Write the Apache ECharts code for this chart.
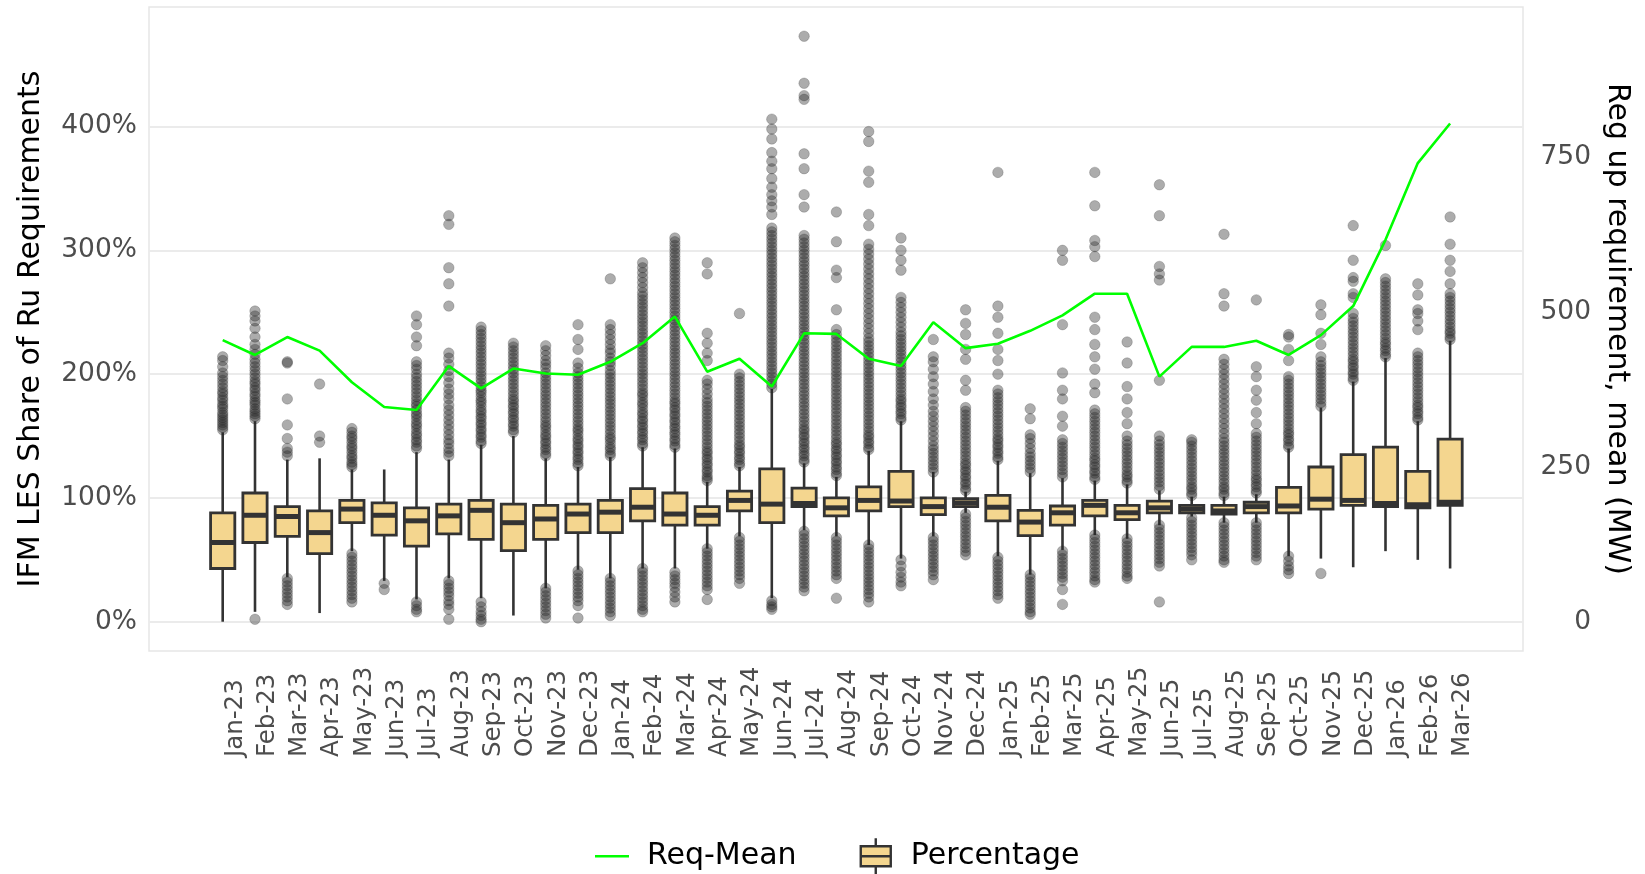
<!DOCTYPE html>
<html><head><meta charset="utf-8">
<script src="https://cdn.jsdelivr.net/npm/echarts@6/dist/echarts.min.js"></script>
<style>html,body{margin:0;padding:0;background:#fff}#chart{width:1645px;height:874px}</style>
</head><body><div id="chart"></div>
<script>
// ---- data ----
const months = ['Jan-23','Feb-23','Mar-23','Apr-23','May-23','Jun-23','Jul-23','Aug-23','Sep-23','Oct-23','Nov-23','Dec-23',
  'Jan-24','Feb-24','Mar-24','Apr-24','May-24','Jun-24','Jul-24','Aug-24','Sep-24','Oct-24','Nov-24','Dec-24',
  'Jan-25','Feb-25','Mar-25','Apr-25','May-25','Jun-25','Jul-25','Aug-25','Sep-25','Oct-25','Nov-25','Dec-25',
  'Jan-26','Feb-26','Mar-26'];
const lowerWhisker = [0,8,36,7,57,33,18,35,19,5,27,42,35,43,43,59,69,19,74,69,62,51,69,88,53,38,58,70,67,78,85,80,80,53,51,44,57,50,43];
const q1 = [43,64,69,55,80,70,61,71,66.5,57.5,66.5,72,72,81.5,78,78,89.5,80,93,85.5,89.5,93,86.5,93,81.5,69.5,78,85.5,82.5,88,88,87,88,88,91,94,93,92,94];
const median = [64,86,85,72,91,86,81.5,85.5,90,80,83,87,88.5,92.5,87,86,98,95,95.5,92,98,97.5,93,96,92.5,80.5,88,94,88,92,91,89.5,93,93.5,99,98,95.5,94.5,96.5];
const q3 = [88,104,93,89.5,98,96,92,95,98,95,94,95,98,107.5,104,93,105.5,123.5,108,100,109,121.5,100,99.5,102,90,93.5,98,94,97.5,94,94,96.5,108.5,125,135,141,121.5,147.5];
const upperWhisker = [153,162,131,132,123,123,137,131,143,150,132,125,133,141,140,113,125,188,128,117,138,162,121,105,130,120,116,114,111,106,101,101,103,140,173,194,213,162,227];
const reqMean = [455,431,460,438,387,347,342,413,377,409,401,399,420,450,493,404,425,380,466,465,425,413,484,442,449,470,495,530,530,396,444,444,454,431,463,510,617,741,805];
const outliers = [
 [155,157,159,161,163,165,167,169,172,174,176,179,181,184,186,189,192,195,198,201,206,211,214],
 [2,164,166,168,170,172,175,177,179,182,184,187,189,192,194,197,200,203,206,209,212,216,220,224,230,237,243,247,251],
 [14,17,20,23,26,29,32,35,134,137,140,148,159,180,209,210],
 [145,150,192],
 [16,19,22,25,28,31,34,37,40,43,46,49,52,55,125,127,129,132,134,137,140,142,145,148,150,153,156],
 [26,31],
 [8,10,13,16,140,142,145,147,150,152,155,158,160,163,166,168,171,174,176,179,182,185,188,191,194,197,200,204,207,210,223,230,240,247],
 [2,10,14,17,21,24,27,30,33,134,137,140,144,147,151,155,159,163,167,171,175,180,184,188,193,198,203,208,213,217,255,273,286,321,328],
 [0,2,5,8,12,16,144,146,149,151,154,156,159,161,164,166,169,171,174,177,179,182,185,187,190,193,196,199,202,205,208,211,214,217,220,223,226,229,232,235,238],
 [153,155,158,160,163,165,168,170,173,175,178,180,183,186,189,192,195,198,201,204,207,210,213,216,219,222,225],
 [3,6,9,12,15,18,21,24,27,134,136,139,141,144,146,149,151,154,157,159,162,165,168,171,174,177,180,183,186,189,192,195,198,201,205,208,211,215,219,223],
 [3,13,17,20,23,26,29,32,35,38,41,126,128,131,133,136,138,141,143,146,148,151,154,156,159,162,165,168,171,174,177,180,183,186,189,192,195,198,201,205,209,220,228,240],
 [5,8,11,14,17,20,23,26,29,32,35,134,136,139,141,144,147,149,152,155,158,161,164,167,170,173,176,179,182,185,188,191,194,197,200,203,207,210,213,217,220,224,228,232,236,240,277],
 [8,10,13,16,19,22,25,28,31,34,37,40,43,142,144,147,149,152,154,157,159,162,164,167,169,172,175,177,180,183,185,188,191,194,197,200,203,206,209,212,215,218,221,224,227,230,233,236,239,242,245,248,251,254,257,260,263,266,270,274,278,282,286,290],
 [16,20,24,28,31,34,37,40,141,143,146,148,151,153,156,158,161,163,166,168,171,173,176,178,181,184,187,190,193,196,199,202,205,208,211,214,217,220,223,226,229,232,235,238,241,244,247,250,253,256,259,262,265,268,271,274,277,280,283,286,289,292,295,298,301,304,307,310],
 [18,26,29,32,35,38,41,44,47,50,53,56,59,114,116,118,121,123,126,128,131,133,136,138,141,144,147,150,153,156,159,162,165,168,171,174,177,180,184,188,192,195,211,217,225,233,281,290],
 [31,35,38,41,44,47,50,53,56,59,62,65,68,126,128,131,133,136,138,141,143,146,149,152,155,158,161,164,167,170,173,176,179,182,185,188,191,194,197,200,249],
 [10,12,14,17,189,192,195,198,201,204,207,210,213,216,219,222,225,228,231,234,237,240,243,246,249,252,255,258,261,264,267,270,273,276,279,282,285,288,291,294,297,300,303,306,309,312,315,318,329,335,340,345,351,358,366,372,379,390,398,406],
 [25,28,31,34,37,40,43,46,49,52,55,58,61,64,67,70,73,129,131,134,136,139,141,144,146,149,151,154,156,159,162,165,168,171,174,177,180,183,186,189,192,195,198,201,204,207,210,213,216,219,222,225,228,231,234,237,240,243,246,249,252,255,258,261,264,267,270,273,276,279,282,285,288,291,294,297,300,303,306,309,312,335,345,366,378,422,425,435,473],
 [19,35,38,41,44,47,50,53,56,59,62,65,68,118,120,123,125,128,130,133,135,138,140,143,145,148,151,154,157,160,163,166,169,172,175,178,181,184,187,190,193,196,199,202,205,208,211,214,217,220,223,226,229,232,236,252,278,284,307,331],
 [16,20,23,26,29,32,35,38,41,44,47,50,53,56,59,62,139,141,144,146,149,151,154,157,160,163,166,169,172,175,178,181,184,187,190,193,196,199,202,205,208,211,214,217,220,223,226,229,233,237,241,245,249,253,257,261,265,269,273,277,281,285,289,293,297,301,305,320,329,355,364,388,396],
 [29,32,36,40,45,50,163,165,168,170,173,175,178,180,183,186,189,192,195,198,201,204,207,210,213,216,219,222,225,228,231,234,238,242,246,250,254,258,262,284,292,300,310],
 [34,38,41,44,47,50,53,56,59,62,65,68,121,124,127,130,133,136,139,142,146,150,154,158,162,166,170,175,180,186,192,198,204,210,214,228],
 [54,57,60,63,66,69,72,75,78,81,84,87,106,108,111,113,116,118,121,123,126,128,131,134,137,140,143,146,149,152,155,158,161,164,167,170,173,187,195,212,220,232,241,252],
 [19,22,25,28,31,34,37,40,43,46,49,52,131,133,136,138,141,143,146,148,151,154,157,160,163,166,169,172,175,178,181,184,187,200,211,220,233,246,255,363],
 [6,8,11,14,17,20,23,26,29,32,35,38,121,124,127,130,133,136,140,144,148,151,164,172],
 [14,26,33,36,39,42,45,48,51,54,57,117,120,123,126,129,132,135,138,141,144,147,158,166,180,187,201,240,292,300],
 [32,34,37,40,43,46,49,52,55,58,61,64,67,70,115,117,120,122,125,127,130,132,135,138,141,144,147,150,153,156,159,162,165,168,171,185,192,204,214,224,236,246,295,303,308,336,363],
 [35,37,40,43,46,49,52,55,58,61,64,67,112,114,117,119,122,125,128,131,134,137,140,143,146,150,160,169,180,190,209,226],
 [16,45,48,51,54,57,60,63,66,69,72,75,78,107,110,113,116,119,122,125,128,131,134,137,140,143,146,150,195,276,281,287,328,353],
 [50,54,57,60,63,66,69,72,75,78,81,84,102,104,107,109,112,115,118,121,124,127,130,133,136,139,142,145,147],
 [48,50,53,56,59,62,65,68,71,74,77,80,102,104,107,109,112,115,118,121,124,127,130,133,136,139,142,145,148,152,156,160,164,168,172,176,180,184,188,192,196,200,204,208,212,255,265,313],
 [50,53,56,59,62,65,68,71,74,77,80,104,106,109,111,114,116,119,122,125,128,131,134,137,140,143,146,149,152,160,169,179,187,198,206,260],
 [39,42,45,49,53,141,143,146,148,151,153,156,159,162,165,168,171,174,177,180,183,186,189,192,195,198,211,220,230,232],
 [39,174,177,180,183,186,189,192,195,198,201,204,207,210,214,224,233,248,256],
 [195,197,200,202,205,207,210,212,215,218,221,224,227,230,233,236,239,242,245,249,262,265,275,278,292,320],
 [214,216,219,221,224,226,229,232,235,238,241,244,247,250,253,256,259,262,265,268,271,274,277,304],
 [163,165,168,170,173,175,178,181,184,187,190,193,196,199,202,205,208,211,214,217,236,243,249,252,264,273],
 [228,230,233,235,238,241,244,247,250,253,256,259,262,265,273,283,292,305,327]
];
const pctTicks = [0, 100, 200, 300, 400];
const mwTicks = [0, 250, 500, 750];
const pctRange = [-23.65, 496.6];
const mwRange = [-47.3, 993.2];

// ---- build series data ----
const boxData = months.map((m, i) => [i, lowerWhisker[i], q1[i], median[i], q3[i], upperWhisker[i]]);
const outlierData = [];
outliers.forEach((arr, i) => arr.forEach(v => outlierData.push([i, v])));

const FONT = 'DejaVu Sans';
const BAND = 32.3;
const BOX_FILL = '#F4D68F';
const DARK = '#333333';
const chart = echarts.init(document.getElementById('chart'), null, {renderer: 'canvas', width: 1645, height: 874});

const option = {
  animation: false,
  backgroundColor: '#ffffff',
  textStyle: {fontFamily: FONT},
  grid: [
    {left: 149, top: 7, width: 1374, height: 644, show: true, borderColor: '#e6e6e6', borderWidth: 1.5, backgroundColor: 'transparent'},
    {left: 222.7 - BAND / 2, top: 7, width: BAND * months.length, height: 644}
  ],
  xAxis: [
    {gridIndex: 0, type: 'value', min: 0, max: 1, show: false},
    {gridIndex: 1, type: 'category', data: months, boundaryGap: true,
     axisLine: {show: false}, axisTick: {show: false}, splitLine: {show: false},
     axisLabel: {interval: 0, rotate: 90, align: 'left', verticalAlign: 'top', margin: 106,
                 fontSize: 24.5, color: '#4d4d4d', fontFamily: FONT}}
  ],
  yAxis: [
    {gridIndex: 0, type: 'value', position: 'left', min: pctRange[0], max: pctRange[1],
     name: 'IFM LES Share of Ru Requirements', nameLocation: 'middle', nameGap: 103,
     nameTextStyle: {fontSize: 30, color: '#000', fontFamily: FONT},
     axisLine: {show: false}, axisTick: {show: false, customValues: pctTicks},
     axisLabel: {customValues: pctTicks, formatter: v => v + '%', fontSize: 26.5, color: '#4d4d4d', margin: 12, fontFamily: FONT},
     splitLine: {show: true, lineStyle: {color: '#ebebeb', width: 2}}},
    {gridIndex: 0, type: 'value', position: 'right', min: mwRange[0], max: mwRange[1],
     name: 'Reg up requirement, mean (MW)', nameLocation: 'middle', nameRotate: -90, nameGap: 70,
     nameTextStyle: {fontSize: 30, color: '#000', fontFamily: FONT},
     axisLine: {show: false}, axisTick: {show: false, customValues: mwTicks},
     axisLabel: {customValues: mwTicks, align: 'right', fontSize: 26.5, color: '#4d4d4d', margin: 68, fontFamily: FONT},
     splitLine: {show: false}},
    {gridIndex: 1, type: 'value', min: pctRange[0], max: pctRange[1], show: false},
    {gridIndex: 1, type: 'value', min: mwRange[0], max: mwRange[1], show: false}
  ],
  legend: {
    left: 595, top: 837, padding: 0, itemWidth: 34, itemHeight: 36, itemGap: 63,
    textStyle: {fontSize: 30, color: '#000', fontFamily: FONT, padding: [0, 0, 0, 13]},
    data: [
      {name: 'Req-Mean', icon: 'path://M0,0L34,0L34,2.6L0,2.6Z',
       itemStyle: {color: '#00ff00', borderWidth: 0}},
      {name: 'Percentage', icon: 'path://M16,0L16,8M1,8L31,8L31,28L1,28ZM1,18L31,18M16,28L16,36',
       itemStyle: {color: BOX_FILL, borderColor: DARK, borderWidth: 2.4}}
    ]
  },
  series: [
    {
      name: 'Percentage', type: 'custom', xAxisIndex: 1, yAxisIndex: 2, z: 2,
      itemStyle: {color: BOX_FILL},
      encode: {x: 0, y: [1, 2, 3, 4, 5]},
      data: boxData,
      renderItem: function (params, api) {
        const i = api.value(0);
        const bw = api.size([1, 0])[0] * 0.75;
        const pLo = api.coord([i, api.value(1)]);
        const pQ1 = api.coord([i, api.value(2)]);
        const pMed = api.coord([i, api.value(3)]);
        const pQ3 = api.coord([i, api.value(4)]);
        const pHi = api.coord([i, api.value(5)]);
        const cx = pQ1[0];
        const st = {stroke: DARK, lineWidth: 2.6};
        return {type: 'group', children: [
          {type: 'line', shape: {x1: cx, y1: pHi[1], x2: cx, y2: pQ3[1]}, style: st},
          {type: 'line', shape: {x1: cx, y1: pQ1[1], x2: cx, y2: pLo[1]}, style: st},
          {type: 'rect', shape: {x: cx - bw / 2, y: pQ3[1], width: bw, height: pQ1[1] - pQ3[1]},
           style: {fill: BOX_FILL, stroke: DARK, lineWidth: 2.8}},
          {type: 'line', shape: {x1: cx - bw / 2, y1: pMed[1], x2: cx + bw / 2, y2: pMed[1]},
           style: {stroke: DARK, lineWidth: 5}}
        ]};
      }
    },
    {
      name: 'outliers', type: 'scatter', xAxisIndex: 1, yAxisIndex: 2, z: 3,
      symbol: 'circle', symbolSize: 10.5,
      itemStyle: {color: 'rgba(40,40,40,0.48)', borderColor: 'rgba(40,40,40,0.35)', borderWidth: 0.8},
      data: outlierData
    },
    {
      name: 'Req-Mean', type: 'line', xAxisIndex: 1, yAxisIndex: 3, z: 4,
      symbol: 'none', data: reqMean,
      lineStyle: {color: '#00ff00', width: 2.6}, itemStyle: {color: '#00ff00'}
    }
  ]
};
chart.setOption(option);
</script>
</body></html>
